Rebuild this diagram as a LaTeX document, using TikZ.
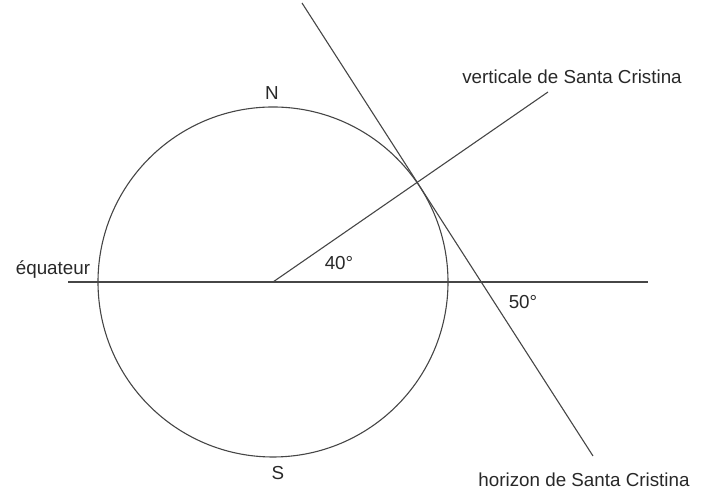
\documentclass[tikz,border=0pt]{standalone}
\usepackage{fontspec}
\setmainfont{Liberation Sans}
\usetikzlibrary{calc}
\definecolor{lncolor}{RGB}{70,70,70}
\definecolor{txtcolor}{RGB}{40,40,40}

\begin{document}
\begin{tikzpicture}[x=0.5pt, y=-0.5pt, font=\fontsize{9.4}{11}\selectfont,
    ln/.style={lncolor, line width=0.55pt},
    lbl/.style={txtcolor, inner sep=0pt}]
        \useasboundingbox (0,0) rectangle (703,490);
        \coordinate (O) at (273,282);
        \coordinate (eqW) at (68,282);
        \coordinate (eqE) at (648,282);
        \coordinate (vert) at (548,92);
        \coordinate (horN) at (302,3);
        \coordinate (horS) at (593,456);
        \draw[ln] (O) circle (175);
        \draw[ln, line width=0.85pt] (eqW) -- (eqE);
        \draw[ln] (O) -- (vert);
        \draw[ln] (horN) -- (horS);
        \node[lbl] (nord) at (272,93) {N};
        \node[lbl] (sud) at (278,473) {S};
        \node[lbl] (equ) at (53,270) {équateur};
        \node[lbl] (lat) at (339,263) {40°};
        \node[lbl] (comp) at (523,302) {50°};
        \node[lbl] (verttxt) at (572,77) {verticale de Santa Cristina};
        \node[lbl] (hortxt) at (584,480) {horizon de Santa Cristina};
      \end{tikzpicture}
\end{document}
